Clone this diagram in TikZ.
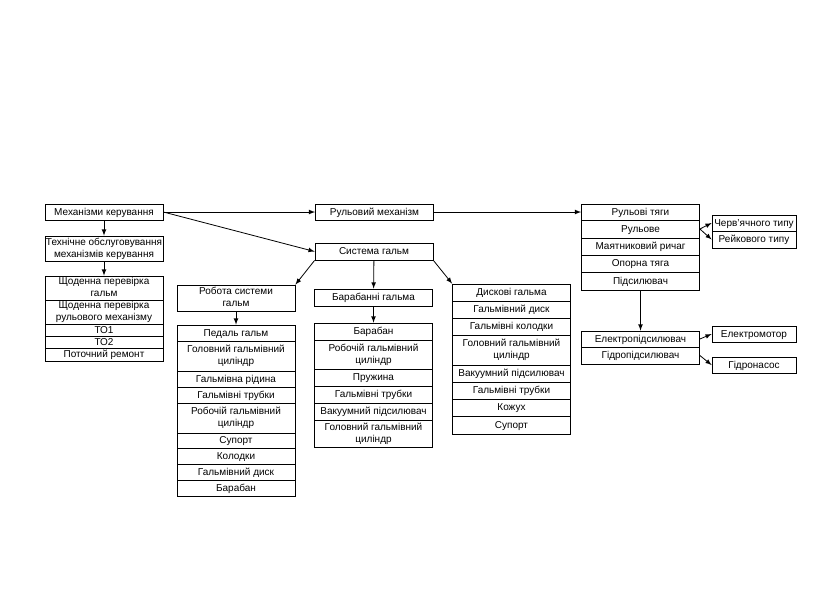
\documentclass[tikz,border=0pt]{standalone}
\usepackage{fontspec}
\setmainfont{Liberation Sans}
\usepackage{tikz}
\usetikzlibrary{arrows}

\tikzset{
  cell/.style={draw, line width=0.6pt, inner xsep=0pt, inner ysep=0.5pt, align=center,
    font=\fontsize{7.5}{9}\selectfont, minimum width=88.5pt,
    execute at begin node={\rule[-1.5pt]{0pt}{8pt}}},
  smallcell/.style={cell, minimum width=63pt},
  arr/.style={-latex, line width=0.6pt}
}

\begin{document}
\begin{tikzpicture}[x=0.75pt,y=0.75pt,yscale=-1,xscale=1]
\useasboundingbox (0,0) rectangle (813,615);

%Shape: Rectangle -- control mechanisms
\node [cell, minimum height=12pt] (mk) at (104,212) {Механізми керування};
\node [cell, minimum height=18.75pt] (to) at (104,248.5) {Технічне обслуговування\\механізмів керування};
% list: maintenance
\node [cell, minimum height=18pt] (to1) at (104,288) {Щоденна перевірка\\гальм};
\node [cell, minimum height=18pt] (to2) at (104,312) {Щоденна перевірка\\рульового механізму};
\node [cell, minimum height=9pt] (to3) at (104,330) {ТО1};
\node [cell, minimum height=9pt] (to4) at (104,342) {ТО2};
\node [cell, minimum height=9.75pt] (to5) at (104,354.5) {Поточний ремонт};

%Shape: Rectangle -- steering and brakes
\node [cell, minimum height=12pt] (rm) at (374.5,212) {Рульовий механізм};
\node [cell, minimum height=12.75pt] (sg) at (374,251.5) {Система гальм};

% list: brake system work
\node [cell, minimum height=19.5pt] (rb) at (236,298) {Робота системи\\гальм};
\node [cell, minimum height=12pt] (rb1) at (236,333) {Педаль гальм};
\node [cell, minimum height=22.5pt] (rb2) at (236,356) {Головний гальмівний\\циліндр};
\node [cell, minimum height=12pt] (rb3) at (236,379) {Гальмівна рідина};
\node [cell, minimum height=12pt] (rb4) at (236,395) {Гальмівні трубки};
\node [cell, minimum height=22.5pt] (rb5) at (236,418) {Робочій гальмівний\\циліндр};
\node [cell, minimum height=11.25pt] (rb6) at (236,440.5) {Супорт};
\node [cell, minimum height=12pt] (rb7) at (236,456) {Колодки};
\node [cell, minimum height=12pt] (rb8) at (236,472) {Гальмівний диск};
\node [cell, minimum height=12pt] (rb9) at (236,488) {Барабан};

% list: drum brakes
\node [cell, minimum height=12.75pt] (bb) at (373.5,297.5) {Барабанні гальма};
\node [cell, minimum height=12.75pt] (bb1) at (373.5,331.5) {Барабан};
\node [cell, minimum height=21.75pt] (bb2) at (373.5,354.5) {Робочій гальмівний\\циліндр};
\node [cell, minimum height=12.75pt] (bb3) at (373.5,377.5) {Пружина};
\node [cell, minimum height=12.75pt] (bb4) at (373.5,394.5) {Гальмівні трубки};
\node [cell, minimum height=12.75pt] (bb5) at (373.5,411.5) {Вакуумний підсилювач};
\node [cell, minimum height=20.25pt] (bb6) at (373.5,433.5) {Головний гальмівний\\циліндр};

% list: disc brakes
\node [cell, minimum height=12.75pt] (dk1) at (511.5,292.5) {Дискові гальма};
\node [cell, minimum height=12.75pt] (dk2) at (511.5,309.5) {Гальмівний диск};
\node [cell, minimum height=12.75pt] (dk3) at (511.5,326.5) {Гальмівні колодки};
\node [cell, minimum height=22.5pt] (dk4) at (511.5,350) {Головний гальмівний\\циліндр};
\node [cell, minimum height=12.75pt] (dk5) at (511.5,373.5) {Вакуумний підсилювач};
\node [cell, minimum height=12.75pt] (dk6) at (511.5,390.5) {Гальмівні трубки};
\node [cell, minimum height=12.75pt] (dk7) at (511.5,407.5) {Кожух};
\node [cell, minimum height=13.5pt] (dk8) at (511.5,425) {Супорт};

% list: steering linkage
\node [cell, minimum height=12pt] (rt1) at (640.5,212) {Рульові тяги};
\node [cell, minimum height=13.5pt] (rt2) at (640.5,229) {Рульове};
\node [cell, minimum height=12.75pt] (rt3) at (640.5,246.5) {Маятниковий ричаг};
\node [cell, minimum height=12.75pt] (rt4) at (640.5,263.5) {Опорна тяга};
\node [cell, minimum height=13.5pt] (rt5) at (640.5,281) {Підсилювач};
\node [smallcell, minimum height=12pt] (cherv) at (754,223) {Черв’ячного типу};
\node [smallcell, minimum height=12.75pt] (reik) at (754,239.5) {Рейкового типу};

% list: power steering
\node [cell, minimum height=12pt] (el1) at (640.5,339) {Електропідсилювач};
\node [cell, minimum height=12.75pt] (el2) at (640.5,355.5) {Гідропідсилювач};
\node [smallcell, minimum height=12pt] (em) at (754,334) {Електромотор};
\node [smallcell, minimum height=12pt] (gn) at (754,365) {Гідронасос};

%Straight Lines -- arrows
\draw [arr] (mk) -- (to);
\draw [arr] (to) -- (to1);
\draw [arr] (mk.east) -- (rm.west);
\draw [arr] (mk.east) -- (sg.west);
\draw [arr] (rm.east) -- (rt1.west);
\draw [arr] (sg.south west) -- (rb.north east);
\draw [arr] (sg) -- (bb);
\draw [arr] (sg.south east) -- (dk1.north west);
\draw [arr] (rb) -- (rb1);
\draw [arr] (bb) -- (bb1);
\draw [arr] (rt2.east) -- (cherv.west);
\draw [arr] (rt2.east) -- (reik.west);
\draw [arr] (rt5) -- (el1);
\draw [arr] (el1.east) -- (em.west);
\draw [arr] (el2.east) -- (gn.west);

\end{tikzpicture}
\end{document}
